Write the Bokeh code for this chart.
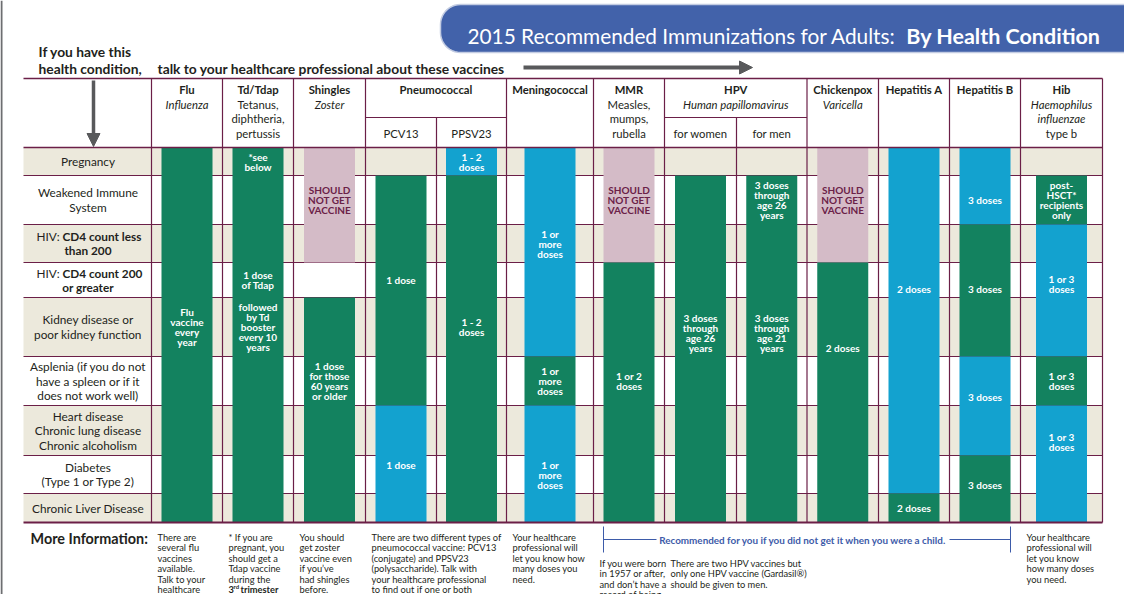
import numpy as np
from bokeh.plotting import figure
from bokeh.models import Range1d, Arrow, NormalHead, ColumnDataSource
from bokeh.core.properties import value
from bokeh.embed import file_html
from bokeh.resources import INLINE

# ---------------- DATA ----------------
conditions = [
    "Pregnancy",
    "Weakened Immune\nSystem",
    "HIV:|CD4 count less\nthan 200",
    "HIV:|CD4 count 200\nor greater",
    "Kidney disease or\npoor kidney function",
    "Asplenia (if you do not\nhave a spleen or if it\ndoes not work well)",
    "Heart disease\nChronic lung disease\nChronic alcoholism",
    "Diabetes\n(Type 1 or Type 2)",
    "Chronic Liver Disease",
]

vaccine_names = ["Flu", "Td/Tdap", "Shingles", "Pneumococcal", "Meningococcal", "MMR",
                 "HPV", "Chickenpox", "Hepatitis A", "Hepatitis B", "Hib"]
vaccine_subtitles = ["Influenza", "Tetanus,\ndiphtheria,\npertussis", "Zoster", "", "",
                     "Measles,\nmumps,\nrubella", "Human papillomavirus", "Varicella", "", "",
                     "Haemophilus\ninfluenzae\n|type b"]
subtitle_italic = [True, False, True, False, False, False, True, True, False, False, True]
vaccine_span = [1, 1, 1, 2, 1, 1, 2, 1, 1, 1, 1]
sub_columns = ["", "", "", "PCV13", "PPSV23", "", "", "for women", "for men", "", "", "", ""]

# bar segments: sub-column, first row, end row (exclusive), kind
# R = recommended (green), M = may be recommended (blue), X = should not get (pink)
seg_col   = [0, 1, 2, 2, 3, 3, 4, 4, 5, 5, 5, 6, 6, 7, 8, 9, 9, 10, 10, 11, 11, 11, 11, 12, 12, 12, 12]
seg_start = [0, 0, 0, 4, 1, 6, 0, 1, 0, 5, 6, 0, 3, 1, 1, 0, 3, 0, 8, 0, 2, 5, 7, 1, 2, 5, 6]
seg_end   = [9, 9, 3, 9, 6, 9, 1, 9, 5, 6, 9, 3, 9, 9, 9, 3, 9, 8, 9, 2, 5, 7, 9, 2, 5, 6, 9]
seg_kind  = ["R", "R", "X", "R", "R", "M", "M", "R", "M", "R", "M", "X", "R", "R", "R", "X", "R",
             "M", "R", "M", "R", "M", "R", "R", "M", "R", "M"]

NOGET = "SHOULD\nNOT GET\nVACCINE"
lab_col = [0, 1, 1, 1, 2, 2, 3, 3, 4, 4, 5, 5, 5, 6, 6, 7, 8, 8, 9, 9, 10, 10, 11, 11, 11, 11, 12, 12, 12, 12]
lab_row = [4.5, 0.5, 3.5, 4.5, 1.5, 5.5, 3.5, 7.25, 0.5, 4.5, 2.5, 5.5, 7.5, 1.5, 5.5, 4.6, 1.5, 4.6,
           1.5, 4.86, 3.75, 8.5, 1.5, 3.75, 5.83, 7.78, 1.5, 3.62, 5.5, 6.73]
lab_text = ["Flu\nvaccine\nevery\nyear", "*see\nbelow", "1 dose\nof Tdap",
            "followed\nby Td\nbooster\nevery 10\nyears", NOGET, "1 dose\nfor those\n60 years\nor older",
            "1 dose", "1 dose", "1 - 2\ndoses", "1 - 2\ndoses",
            "1 or\nmore\ndoses", "1 or\nmore\ndoses", "1 or\nmore\ndoses",
            NOGET, "1 or 2\ndoses", "3 doses\nthrough\nage 26\nyears", "3 doses\nthrough\nage 26\nyears",
            "3 doses\nthrough\nage 21\nyears", NOGET, "2 doses", "2 doses", "2 doses",
            "3 doses", "3 doses", "3 doses", "3 doses",
            "post-\nHSCT*\nrecipients\nonly", "1 or 3\ndoses", "1 or 3\ndoses", "1 or 3\ndoses"]
lab_kind = ["R", "R", "R", "R", "X", "R", "R", "M", "M", "R", "M", "R", "M", "X", "R", "R", "R", "R",
            "X", "R", "M", "R", "M", "R", "M", "R", "R", "M", "R", "M"]

notes_col = [0, 1, 2, 3, 5, 6, 7, 12]
notes_text = [
    "There are\nseveral flu\nvaccines\navailable.\nTalk to your\nhealthcare",
    "* If you are\npregnant, you\nshould get a\nTdap vaccine\nduring the",
    "You should\nget zoster\nvaccine even\nif you\u2019ve\nhad shingles\nbefore.",
    "There are two different types of\npneumococcal vaccine:  PCV13\n(conjugate) and PPSV23\n(polysaccharide).  Talk with\nyour  healthcare professional\nto find out if one or both",
    "Your healthcare\nprofessional will\nlet you know how\nmany doses you\nneed.",
    "If you were born\nin 1957 or after,\nand don\u2019t have a\nrecord of being",
    "There are two HPV vaccines but\nonly one HPV vaccine (Gardasil\u00ae)\nshould be given to men.",
    "Your healthcare\nprofessional will\nlet you know\nhow many doses\nyou need.",
]
child_note = "Recommended for you if you did not get it when you were a child."

# ---------------- LAYOUT / STYLE ----------------
COL_EDGES = [151, 222, 293, 365, 436, 506, 593, 664, 736, 806.5, 878, 949, 1020, 1102]
ROW_EDGES = [147, 175, 224, 262, 297, 356, 405, 455, 493, 522]
TABLE_LEFT, TABLE_RIGHT, HEADER_TOP, SUBHEAD_Y = 23, 1102, 78, 117
BAR_W = 51
FILL = {"R": "#13825F", "M": "#13A2CF", "X": "#D4BBC7"}
TXT_COL = {"R": "white", "M": "white", "X": "#6B2148"}
ROW_BG = ["#ECE9DC", "white"]
GRID = "#6B1F47"
DARK = "#231F20"
FONT = "Lato"
LOWER_NOTES = {6, 7}

W, H = 1124, 594
p = figure(width=W, height=H, x_range=Range1d(0, W), y_range=Range1d(H, 0),
           output_backend="svg", toolbar_location=None, min_border=0,
           x_axis_location=None, y_axis_location=None)
p.grid.visible = False
p.outline_line_color = None
p.background_fill_color = "white"
p.border_fill_color = "white"


def draw_text(xs, ys, texts, size, style="normal", color=DARK, align="center", baseline="middle"):
    src = ColumnDataSource(dict(x=list(xs), y=list(ys), text=list(texts)))
    p.text("x", "y", "text", source=src, text_font=value(FONT), text_font_size=f"{size}px",
           text_font_style=style, text_color=color, text_align=align, text_baseline=baseline)


def row_y(r):
    i = min(int(np.floor(r)), len(ROW_EDGES) - 2)
    return ROW_EDGES[i] + (r - i) * (ROW_EDGES[i + 1] - ROW_EDGES[i])


col_center = [(COL_EDGES[i] + COL_EDGES[i + 1]) / 2 for i in range(len(COL_EDGES) - 1)]

# page left border
p.segment(x0=[1], x1=[1], y0=[0], y1=[H], line_color="#6D6E71", line_width=2)

# title box (rounded left end)
r = 20
t1 = np.linspace(np.pi / 2, np.pi, 12)
t2 = np.linspace(np.pi, 1.5 * np.pi, 12)
bx = [1140] + list(460 + r * np.cos(t1)) + list(460 + r * np.cos(t2)) + [1140]
by = [4] + list(24 - r * np.sin(t1)) + list(32 - r * np.sin(t2)) + [52]
p.patch(bx, by, fill_color="#4262AA", line_color="#C3CCE2", line_width=1.5)
draw_text([467], [35], ["2015 Recommended Immunizations for Adults:"], 20.8, color="white",
          align="left", baseline="alphabetic")
draw_text([1100], [35], ["By Health Condition"], 21.5, style="bold", color="white",
          align="right", baseline="alphabetic")

# intro texts
draw_text([38, 38, 157], [51, 68, 68],
          ["If you have this", "health condition,", "talk to your healthcare professional about these vaccines"],
          13.8, style="bold", align="left")
p.add_layout(Arrow(end=NormalHead(size=13, fill_color="#58595B", line_color="#58595B"),
                   x_start=523, y_start=67, x_end=752, y_end=67, line_width=4, line_color="#58595B"))
p.add_layout(Arrow(end=NormalHead(size=13, fill_color="#58595B", line_color="#58595B"),
                   x_start=93, y_start=80, x_end=93, y_end=146, line_width=3.5, line_color="#58595B"))

# row backgrounds
nrow = len(conditions)
p.quad(left=[TABLE_LEFT] * nrow, right=[TABLE_RIGHT] * nrow,
       top=ROW_EDGES[:-1], bottom=ROW_EDGES[1:],
       fill_color=[ROW_BG[i % 2] for i in range(nrow)], line_color=None)

# grid lines (under bars)
hy = ROW_EDGES[1:-1]
p.segment(x0=[TABLE_LEFT] * len(hy), x1=[TABLE_RIGHT] * len(hy), y0=hy, y1=hy, line_color=GRID, line_width=1)
main_edges = []
k = 0
for s in vaccine_span:
    main_edges.append(COL_EDGES[k])
    k += s
main_edges.append(COL_EDGES[-1])
sub_edges = [e for e in COL_EDGES if e not in main_edges]
p.segment(x0=main_edges, x1=main_edges, y0=[HEADER_TOP] * len(main_edges), y1=[ROW_EDGES[-1]] * len(main_edges),
          line_color=GRID, line_width=1.2)
p.segment(x0=sub_edges, x1=sub_edges, y0=[SUBHEAD_Y] * len(sub_edges), y1=[ROW_EDGES[-1]] * len(sub_edges),
          line_color=GRID, line_width=1.2)
k = 0
shx0, shx1 = [], []
for s in vaccine_span:
    if s > 1:
        shx0.append(COL_EDGES[k]); shx1.append(COL_EDGES[k + s])
    k += s
p.segment(x0=shx0, x1=shx1, y0=[SUBHEAD_Y] * len(shx0), y1=[SUBHEAD_Y] * len(shx0), line_color=GRID, line_width=1.2)

# bars
bsrc = ColumnDataSource(dict(
    left=[col_center[c] - BAR_W / 2 for c in seg_col],
    right=[col_center[c] + BAR_W / 2 for c in seg_col],
    top=[ROW_EDGES[s] for s in seg_start],
    bottom=[ROW_EDGES[e] for e in seg_end],
    color=[FILL[k] for k in seg_kind]))
p.quad(left="left", right="right", top="top", bottom="bottom", fill_color="color", line_color=None, source=bsrc)

# outer horizontal lines over bars
p.segment(x0=[TABLE_LEFT, TABLE_LEFT], x1=[TABLE_RIGHT, TABLE_RIGHT], y0=[HEADER_TOP, ROW_EDGES[0]],
          y1=[HEADER_TOP, ROW_EDGES[0]], line_color=GRID, line_width=1.5)
p.segment(x0=[TABLE_LEFT], x1=[TABLE_RIGHT], y0=[ROW_EDGES[-1]], y1=[ROW_EDGES[-1]], line_color=GRID, line_width=2.2)

# bar labels
for kind in ["R", "M", "X"]:
    xs, ys, ts = [], [], []
    for c, rr, t, kk in zip(lab_col, lab_row, lab_text, lab_kind):
        if kk != kind:
            continue
        lines = t.split("\n")
        yc = row_y(rr)
        for j, ln in enumerate(lines):
            xs.append(col_center[c]); ys.append(yc + (j - (len(lines) - 1) / 2) * 10); ts.append(ln)
    draw_text(xs, ys, ts, 10, style="bold", color=TXT_COL[kind])

# row labels
cx, cy, ct = [], [], []
px_, py_, pt_ = [], [], []
blx, bly, blt = [], [], []
bcx, bcy, bct = [], [], []
for i, lab in enumerate(conditions):
    yc = (ROW_EDGES[i] + ROW_EDGES[i + 1]) / 2
    if "|" in lab:
        pre, rest = lab.split("|")
        l1, l2 = rest.split("\n")
        px_.append(36); py_.append(yc - 7); pt_.append(pre)
        blx.append(62); bly.append(yc - 7); blt.append(l1)
        bcx.append(87.5); bcy.append(yc + 7); bct.append(l2)
    else:
        lines = lab.split("\n")
        for j, ln in enumerate(lines):
            cy.append(yc + (j - (len(lines) - 1) / 2) * 14.5); cx.append(87.5); ct.append(ln)
LAB_SIZE = 11.8
draw_text(cx, cy, ct, LAB_SIZE)
draw_text(px_, py_, pt_, LAB_SIZE, align="left")
draw_text(blx, bly, blt, LAB_SIZE, style="bold", align="left")
draw_text(bcx, bcy, bct, LAB_SIZE, style="bold")

# header texts
k = 0
hx, hy_, ht = [], [], []
sx, sy, st, sst = [], [], [], []
for name, sub, it, s in zip(vaccine_names, vaccine_subtitles, subtitle_italic, vaccine_span):
    xc = (COL_EDGES[k] + COL_EDGES[k + s]) / 2
    hx.append(xc); hy_.append(89); ht.append(name)
    if sub:
        for j, ln in enumerate(sub.split("\n")):
            style = "italic" if it else "normal"
            if ln.startswith("|"):
                ln = ln[1:]; style = "normal"
            sx.append(xc); sy.append(103.5 + j * 14.5); st.append(ln); sst.append(style)
    k += s
HS = 11.3
draw_text(hx, hy_, ht, HS, style="bold")
draw_text([a for a, b in zip(sx, sst) if b == "italic"], [a for a, b in zip(sy, sst) if b == "italic"],
          [a for a, b in zip(st, sst) if b == "italic"], HS, style="italic")
draw_text([a for a, b in zip(sx, sst) if b == "normal"], [a for a, b in zip(sy, sst) if b == "normal"],
          [a for a, b in zip(st, sst) if b == "normal"], HS)
draw_text([col_center[i] for i, s in enumerate(sub_columns) if s], [132.5] * sum(1 for s in sub_columns if s),
          [s for s in sub_columns if s], HS)

# More information
draw_text([30], [538], ["More Information:"], 14.4, style="bold", align="left")
nx, ny, nt = [], [], []
for c, t in zip(notes_col, notes_text):
    top = 563 if c in LOWER_NOTES else 537
    for j, ln in enumerate(t.split("\n")):
        nx.append(COL_EDGES[c] + 6); ny.append(top + j * 10.4); nt.append(ln)
draw_text(nx, ny, nt, 9.3, align="left")
draw_text([COL_EDGES[1] + 6], [537 + 5 * 10.4], ["3"], 9.3, style="bold", align="left")
draw_text([COL_EDGES[1] + 11], [537 + 5 * 10.4 - 3], ["rd"], 6, style="bold", align="left")
draw_text([COL_EDGES[1] + 18], [537 + 5 * 10.4], ["trimester"], 9.3, style="bold", align="left")

# child bracket
BLUE = "#3D5BA9"
p.segment(x0=[603, 603, 949, 1010], y0=[526, 539, 539, 526], x1=[603, 656, 1010, 1010], y1=[552, 539, 539, 552],
          line_color=BLUE, line_width=1)
draw_text([802.5], [539], [child_note], 9.9, style="bold", color=BLUE)

open("out.html", "w").write(file_html(p, INLINE))
